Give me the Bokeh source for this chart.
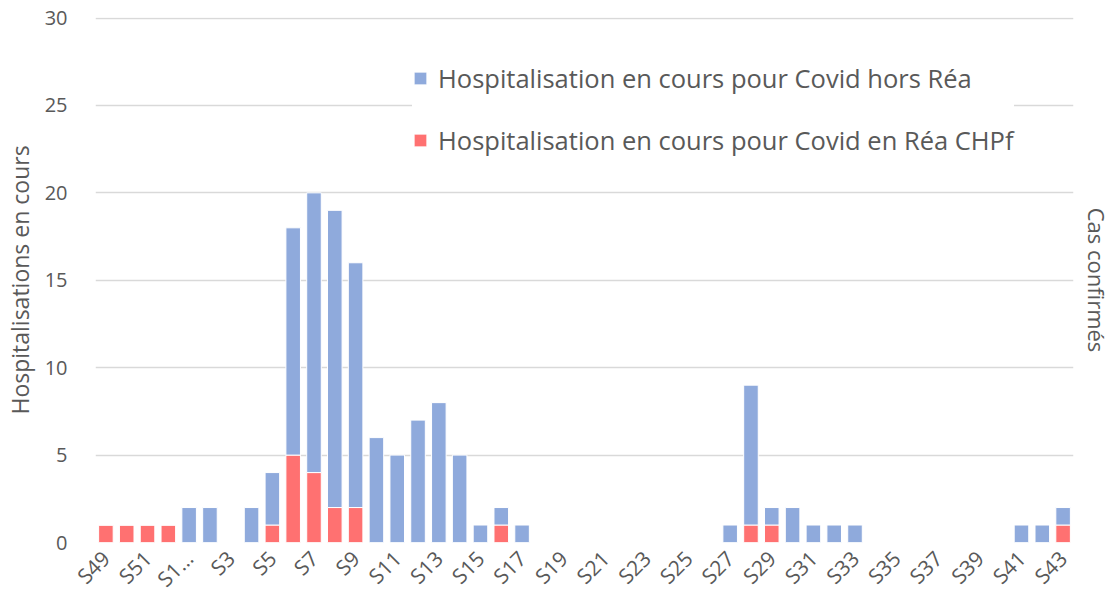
from bokeh.plotting import figure
from bokeh.models import ColumnDataSource, FixedTicker, Legend, LegendItem, LinearAxis, Range1d
from bokeh.embed import file_html
from bokeh.resources import INLINE
import math

weeks = ["S49", "S50", "S51", "S52", "S1…"] + ["S%d" % i for i in range(2, 44)]
rea = [1, 1, 1, 1,
       0, 0, 0, 0, 1, 5, 4, 2, 2, 0, 0, 0, 0, 0, 0, 1, 0,
       0, 0, 0, 0, 0, 0, 0, 0, 0,
       0, 1, 1, 0, 0, 0, 0,
       0, 0, 0, 0, 0, 0, 0,
       0, 0, 1]
hors_rea = [0, 0, 0, 0,
            2, 2, 0, 2, 3, 13, 16, 17, 14, 6, 5, 7, 8, 5, 1, 1, 1,
            0, 0, 0, 0, 0, 0, 0, 0, 0,
            1, 8, 1, 2, 1, 1, 1,
            0, 0, 0, 0, 0, 0, 0,
            1, 1, 1]
y_ticks = [0, 5, 10, 15, 20, 25, 30]

FONT = "Open Sans"
GREY = "#595959"

xs = list(range(len(weeks)))
src = ColumnDataSource(dict(x=xs, rea=rea, hors=hors_rea))

p = figure(frame_width=978, frame_height=525, output_backend="svg", toolbar_location=None,
           x_range=Range1d(-0.5, len(weeks) - 0.5), y_range=Range1d(0, 30.03))
p.min_border_left = 91
p.min_border_top = 17
p.min_border_right = 28
p.min_border_bottom = 40
p.outline_line_color = None
p.background_fill_color = "white"

rs = p.vbar_stack(["rea", "hors"], x="x", width=0.7, source=src,
                  color=["#ff7171", "#8faadc"], line_color="white", line_width=1)

# axes
p.xaxis.ticker = FixedTicker(ticks=xs[::2])
p.xaxis.major_label_overrides = {i: weeks[i] for i in xs}
p.xaxis.major_label_orientation = math.pi / 4
p.xaxis.axis_line_color = None
p.xaxis.major_tick_line_color = None
p.xaxis.minor_tick_line_color = None
p.xaxis.major_label_text_font = FONT
p.xaxis.major_label_text_font_size = "21px"
p.xaxis.major_label_text_color = GREY
p.xaxis.major_label_standoff = 6

p.yaxis.ticker = FixedTicker(ticks=y_ticks)
p.yaxis.axis_line_color = None
p.yaxis.major_tick_line_color = None
p.yaxis.minor_tick_line_color = None
p.yaxis.major_label_text_font = FONT
p.yaxis.major_label_text_font_size = "20px"
p.yaxis.major_label_text_color = GREY
p.yaxis.major_label_standoff = 22
p.yaxis.axis_label = "Hospitalisations en cours"
p.yaxis.axis_label_text_font = FONT
p.yaxis.axis_label_text_font_size = "23px"
p.yaxis.axis_label_text_font_style = "normal"
p.yaxis.axis_label_text_color = GREY
p.yaxis.axis_label_standoff = 6

right = LinearAxis(axis_label="Cas confirmés", ticker=FixedTicker(ticks=[]))
right.axis_line_color = None
right.major_tick_line_color = None
right.minor_tick_line_color = None
right.major_label_text_font_size = "0px"
right.axis_label_text_font = FONT
right.axis_label_text_font_size = "22px"
right.axis_label_text_font_style = "normal"
right.axis_label_text_color = GREY
right.axis_label_standoff = 8
p.add_layout(right, "right")

p.xgrid.grid_line_color = None
p.ygrid.grid_line_color = "#d9d9d9"
p.ygrid.grid_line_width = 1.5
p.ygrid.ticker = FixedTicker(ticks=y_ticks)

legend = Legend(items=[
    LegendItem(label="Hospitalisation en cours pour Covid hors Réa", renderers=[rs[1]]),
    LegendItem(label="Hospitalisation en cours pour Covid en Réa CHPf", renderers=[rs[0]]),
], location=(317, 385))
legend.border_line_color = None
legend.background_fill_color = "white"
legend.background_fill_alpha = 1
legend.label_text_font = FONT
legend.label_text_font_size = "25.5px"
legend.label_text_color = GREY
legend.label_height = 30
legend.glyph_width = 16
legend.glyph_height = 16
legend.spacing = 28
legend.padding = 24
legend.label_standoff = 10
p.add_layout(legend)

open("out.html", "w").write(file_html(p, INLINE))
